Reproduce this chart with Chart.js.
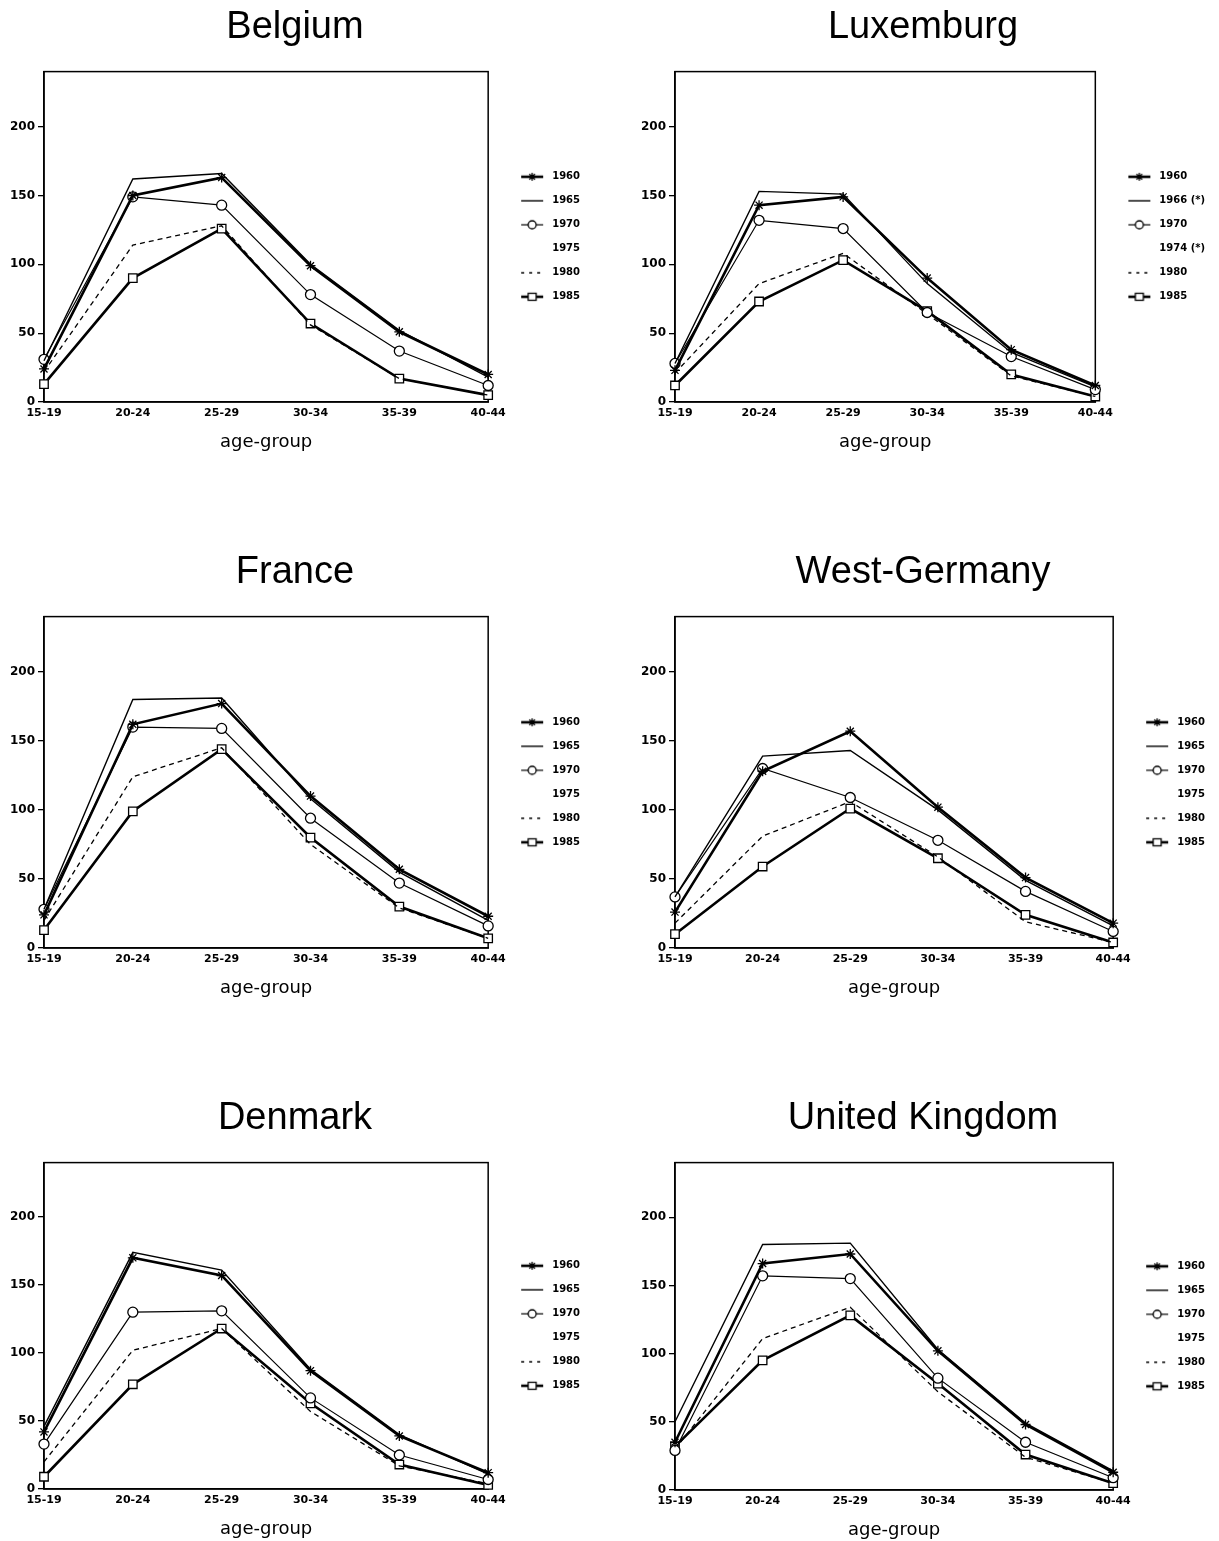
<!DOCTYPE html>
<html>
<head>
<meta charset="utf-8">
<script src="https://cdn.jsdelivr.net/npm/chart.js@4.4.1/dist/chart.umd.min.js"></script>
<style>
body { margin: 0; background: #fff; width: 1219px; height: 1541px; overflow: hidden; position: relative; }
canvas { position: absolute; }
</style>
</head>
<body>
<canvas id="belgium" width="590" height="460" style="left:0px;top:0px"></canvas>
<canvas id="luxemburg" width="588" height="460" style="left:631px;top:0px"></canvas>
<canvas id="france" width="590" height="461" style="left:0px;top:545px"></canvas>
<canvas id="westGermany" width="588" height="461" style="left:631px;top:545px"></canvas>
<canvas id="denmark" width="590" height="456" style="left:0px;top:1091px"></canvas>
<canvas id="uk" width="588" height="457" style="left:631px;top:1091px"></canvas>
<script>
var ageGroups = ['15-19', '20-24', '25-29', '30-34', '35-39', '40-44'];
var yearsStd = ['1960', '1965', '1970', '1975', '1980', '1985'];
var yearsLux = ['1960', '1966 (*)', '1970', '1974 (*)', '1980', '1985'];
var noData = [null, null, null, null, null, null];

// Belgium
var be1960 = [24, 150, 163, 99, 51, 20];
var be1965 = [30, 162, 166, 100, 52, 18];
var be1970 = [31, 149, 143, 78, 37, 12];
var be1980 = [22, 114, 128, 56, 17, 5];
var be1985 = [13, 90, 126, 57, 17, 5];

// Luxemburg
var lu1960 = [23, 143, 149, 90, 38, 12];
var lu1966 = [28, 153, 151, 86, 36, 11];
var lu1970 = [28, 132, 126, 65, 33, 9];
var lu1980 = [21, 86, 108, 64, 19, 4];
var lu1985 = [12, 73, 103, 66, 20, 4];

// France
var fr1960 = [24, 162, 177, 110, 57, 23];
var fr1965 = [28, 180, 181, 108, 55, 20];
var fr1970 = [28, 160, 159, 94, 47, 16];
var fr1980 = [20, 124, 145, 75, 29, 7];
var fr1985 = [13, 99, 144, 80, 30, 7];

// West-Germany
var wg1960 = [26, 128, 157, 102, 51, 18];
var wg1965 = [37, 139, 143, 100, 49, 16];
var wg1970 = [37, 130, 109, 78, 41, 12];
var wg1980 = [18, 81, 106, 66, 19, 4];
var wg1985 = [10, 59, 101, 65, 24, 4];

// Denmark
var dk1960 = [42, 170, 157, 87, 39, 12];
var dk1965 = [46, 174, 161, 88, 40, 11];
var dk1970 = [33, 130, 131, 67, 25, 7];
var dk1980 = [20, 102, 118, 57, 17, 4];
var dk1985 = [9, 77, 118, 63, 18, 3];

// United Kingdom
var uk1960 = [35, 166, 173, 102, 48, 13];
var uk1965 = [50, 180, 181, 103, 49, 14];
var uk1970 = [29, 157, 155, 82, 35, 9];
var uk1980 = [30, 111, 134, 72, 24, 5];
var uk1985 = [32, 95, 128, 78, 26, 5];

// line look per year slot
var seriesStyle = [
  {width: 2.6, point: 'star', radius: 5},
  {width: 1.4, point: false, radius: 0},
  {width: 1.2, point: 'circle', radius: 5},
  {width: 0, point: false, radius: 0},
  {width: 1.3, point: false, radius: 0, dash: [5, 4]},
  {width: 2.6, point: 'rect', radius: 6}
];

function swatch(st) {
  var c = document.createElement('canvas');
  c.width = 45; c.height = 14;
  var g = c.getContext('2d');
  g.strokeStyle = '#000';
  if (st.width > 0) {
    g.lineWidth = st.width;
    g.setLineDash(st.dash ? [3, 5] : []);
    g.beginPath(); g.moveTo(19, 7); g.lineTo(41, 7); g.stroke();
  }
  g.setLineDash([]);
  g.lineWidth = 1.3;
  g.fillStyle = '#fff';
  var x = 30, y = 7, r = 4;
  if (st.point === 'star') {
    g.beginPath();
    for (var k = 0; k < 4; k++) {
      var a = k * Math.PI / 4;
      g.moveTo(x - r * Math.cos(a), y - r * Math.sin(a));
      g.lineTo(x + r * Math.cos(a), y + r * Math.sin(a));
    }
    g.stroke();
  } else if (st.point === 'circle') {
    g.beginPath(); g.arc(x, y, r, 0, Math.PI * 2); g.fill(); g.stroke();
  } else if (st.point === 'rect') {
    g.fillRect(x - 4, y - 3.5, 8, 7); g.strokeRect(x - 4, y - 3.5, 8, 7);
  }
  return c;
}
var swatches = seriesStyle.map(swatch);

var framePlugin = {
  id: 'frame',
  beforeDatasetsDraw: function(chart) {
    var a = chart.chartArea, g = chart.ctx;
    g.save();
    g.strokeStyle = '#000';
    g.lineWidth = 1.5;
    g.strokeRect(a.left, a.top, a.right - a.left, a.bottom - a.top);
    g.restore();
  }
};

function makeChart(id, title, years, series, padRight) {
  var datasets = series.map(function(values, i) {
    var st = seriesStyle[i];
    return {
      label: years[i],
      data: values,
      borderColor: '#000',
      backgroundColor: 'transparent',
      borderWidth: st.width,
      borderDash: st.dash || [],
      pointStyle: st.point,
      pointRadius: st.radius,
      pointBorderWidth: 1.3,
      pointBorderColor: '#000',
      pointBackgroundColor: '#fff',
      tension: 0,
      fill: false,
      clip: false
    };
  });
  return new Chart(document.getElementById(id), {
    type: 'line',
    data: {labels: ageGroups, datasets: datasets},
    plugins: [framePlugin],
    options: {
      responsive: false,
      animation: false,
      layout: {padding: {left: 0, right: padRight, top: 0, bottom: 0}},
      plugins: {
        title: {
          display: true,
          text: title,
          color: '#000',
          font: {family: 'Liberation Sans', size: 38, weight: 'normal'},
          padding: {top: 5, bottom: 21}
        },
        legend: {
          position: 'right',
          align: 'center',
          fullSize: false,
          labels: {
            usePointStyle: true,
            pointStyleWidth: 45,
            padding: 14,
            color: '#000',
            font: {family: 'DejaVu Sans', size: 10, weight: 'bold'},
            generateLabels: function(chart) {
              return chart.data.datasets.map(function(ds, i) {
                return {
                  text: ds.label,
                  pointStyle: swatches[i],
                  fillStyle: 'transparent',
                  strokeStyle: 'transparent',
                  lineWidth: 1,
                  hidden: false,
                  datasetIndex: i,
                  fontColor: '#000'
                };
              });
            }
          }
        },
        tooltip: {enabled: false}
      },
      scales: {
        x: {
          type: 'category',
          offset: false,
          grid: {display: false, drawTicks: false},
          border: {color: '#000', width: 1.5},
          ticks: {color: '#000', font: {family: 'DejaVu Sans', size: 11, weight: 'bold'}, maxRotation: 0, autoSkip: false, padding: 5},
          title: {display: true, text: 'age-group', color: '#000', font: {family: 'DejaVu Sans', size: 18}, padding: {top: 0, bottom: 7}},
          afterFit: function(s) { s.height = 58; }
        },
        y: {
          min: 0,
          max: 240,
          ticks: {stepSize: 50, includeBounds: false, color: '#000', font: {family: 'DejaVu Sans', size: 12, weight: 'bold'}, padding: 3},
          grid: {drawOnChartArea: false, color: '#000', tickLength: 6, lineWidth: 1.3},
          border: {color: '#000', width: 1.5},
          afterFit: function(s) { s.width = 44; }
        }
      }
    }
  });
}

makeChart('belgium', 'Belgium', yearsStd, [be1960, be1965, be1970, noData, be1980, be1985], 0);
makeChart('luxemburg', 'Luxemburg', yearsLux, [lu1960, lu1966, lu1970, noData, lu1980, lu1985], 4);
makeChart('france', 'France', yearsStd, [fr1960, fr1965, fr1970, noData, fr1980, fr1985], 0);
makeChart('westGermany', 'West-Germany', yearsStd, [wg1960, wg1965, wg1970, noData, wg1980, wg1985], 4);
makeChart('denmark', 'Denmark', yearsStd, [dk1960, dk1965, dk1970, noData, dk1980, dk1985], 0);
makeChart('uk', 'United Kingdom', yearsStd, [uk1960, uk1965, uk1970, noData, uk1980, uk1985], 4);
</script>
</body>
</html>
